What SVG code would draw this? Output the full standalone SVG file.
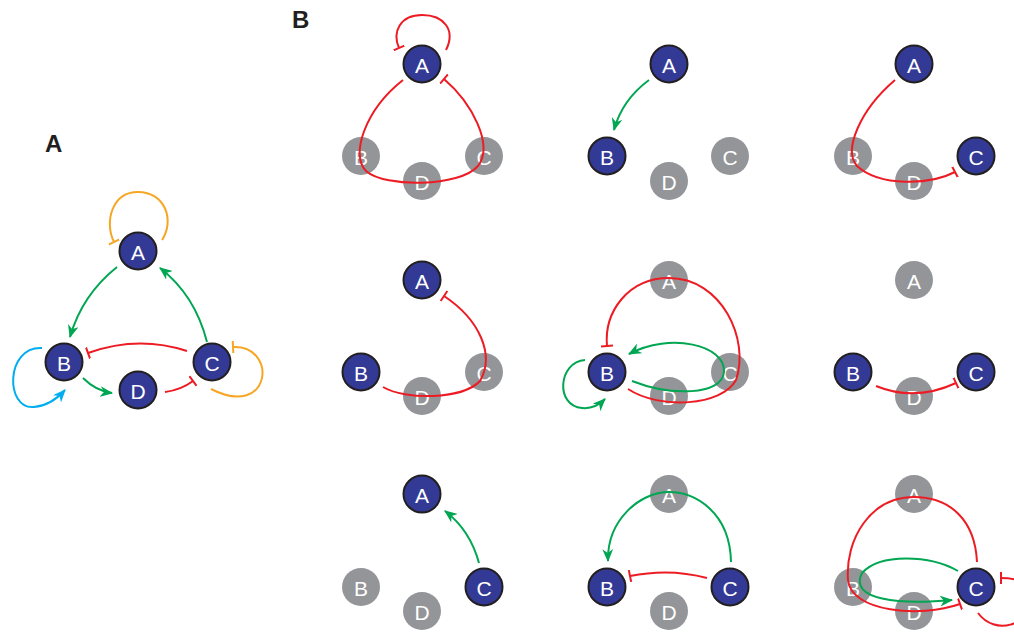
<svg xmlns="http://www.w3.org/2000/svg" width="1014" height="632" viewBox="0 0 1014 632">
  <style>
    .on circle { fill: #333a96; stroke: #231f20; stroke-width: 2; }
    .off circle { fill: #939598; }
    .node text { fill: #ffffff; font-family: "Liberation Sans", Arial, sans-serif; font-size: 21px; text-anchor: middle; dominant-baseline: central; }
    .lbl { fill: #231f20; font-family: "Liberation Sans", Arial, sans-serif; font-weight: bold; font-size: 24px; }
    .e { fill: none; stroke-width: 2; }
    .red { stroke: #ed1c24; }
    .grn { stroke: #00a651; }
    .org { stroke: #f6a623; }
    .cyn { stroke: #00aeef; }
    .act-g { marker-end: url(#arrG); }
    .act-c { marker-end: url(#arrC); }
    .inh-r { marker-end: url(#barR); }
    .inh-o { marker-end: url(#barO); }
  </style>
  <defs>
    <marker id="arrG" viewBox="0 0 12 10" refX="11" refY="5" markerWidth="13" markerHeight="11" markerUnits="userSpaceOnUse" orient="auto">
      <path d="M0,0 L12,5 L0,10 L3.5,5 Z" fill="#00a651"/>
    </marker>
    <marker id="arrC" viewBox="0 0 12 10" refX="11" refY="5" markerWidth="13" markerHeight="11" markerUnits="userSpaceOnUse" orient="auto">
      <path d="M0,0 L12,5 L0,10 L3.5,5 Z" fill="#00aeef"/>
    </marker>
    <marker id="barR" viewBox="0 0 4 12" refX="2" refY="6" markerWidth="4" markerHeight="12" markerUnits="userSpaceOnUse" orient="auto">
      <line x1="2" y1="0" x2="2" y2="12" stroke="#ed1c24" stroke-width="2"/>
    </marker>
    <marker id="barO" viewBox="0 0 4 12" refX="2" refY="6" markerWidth="4" markerHeight="12" markerUnits="userSpaceOnUse" orient="auto">
      <line x1="2" y1="0" x2="2" y2="12" stroke="#f6a623" stroke-width="2"/>
    </marker>
  </defs>

  <text class="lbl" x="45" y="152">A</text>
  <text class="lbl" x="292" y="28">B</text>

  <!-- inactive (grey) nodes sit under the connectors -->
  <g id="b1-B" class="node off"><circle cx="361" cy="156" r="19"/><text x="361" y="157">B</text></g>
  <g id="b1-C" class="node off"><circle cx="484" cy="156" r="19"/><text x="484" y="157">C</text></g>
  <g id="b1-D" class="node off"><circle cx="422" cy="181" r="19"/><text x="422" y="182">D</text></g>
  <g id="b2-C" class="node off"><circle cx="730" cy="156" r="19"/><text x="730" y="157">C</text></g>
  <g id="b2-D" class="node off"><circle cx="669" cy="181" r="19"/><text x="669" y="182">D</text></g>
  <g id="b3-B" class="node off"><circle cx="853" cy="156" r="19"/><text x="853" y="157">B</text></g>
  <g id="b3-D" class="node off"><circle cx="914" cy="181" r="19"/><text x="914" y="182">D</text></g>
  <g id="b4-C" class="node off"><circle cx="484" cy="372" r="19"/><text x="484" y="373">C</text></g>
  <g id="b4-D" class="node off"><circle cx="422" cy="396" r="19"/><text x="422" y="397">D</text></g>
  <g id="b5-A" class="node off"><circle cx="669" cy="280" r="19"/><text x="669" y="281">A</text></g>
  <g id="b5-C" class="node off"><circle cx="730" cy="372" r="19"/><text x="730" y="373">C</text></g>
  <g id="b5-D" class="node off"><circle cx="669" cy="396" r="19"/><text x="669" y="397">D</text></g>
  <g id="b6-A" class="node off"><circle cx="914" cy="280" r="19"/><text x="914" y="281">A</text></g>
  <g id="b6-D" class="node off"><circle cx="914" cy="396" r="19"/><text x="914" y="397">D</text></g>
  <g id="b7-B" class="node off"><circle cx="361" cy="587" r="19"/><text x="361" y="588">B</text></g>
  <g id="b7-D" class="node off"><circle cx="422" cy="611" r="19"/><text x="422" y="612">D</text></g>
  <g id="b8-A" class="node off"><circle cx="669" cy="494" r="19"/><text x="669" y="495">A</text></g>
  <g id="b8-D" class="node off"><circle cx="669" cy="611" r="19"/><text x="669" y="612">D</text></g>
  <g id="b9-A" class="node off"><circle cx="914" cy="494" r="19"/><text x="914" y="495">A</text></g>
  <g id="b9-B" class="node off"><circle cx="853" cy="587" r="19"/><text x="853" y="588">B</text></g>
  <g id="b9-D" class="node off"><circle cx="914" cy="611" r="19"/><text x="914" y="612">D</text></g>

  <!-- connectors -->
  <g id="connectors">
    <!-- panel A -->
    <path class="e org inh-o" d="M162,240 C175,220 165,192 138,192 C112,192 104,222 114,242"/>
    <path class="e grn act-g" d="M117,267 Q82,295 70,337"/>
    <path class="e grn act-g" d="M207,342 Q195,295 160,268"/>
    <path class="e red inh-r" d="M187,351 Q138,335 88,353"/>
    <path class="e grn act-g" d="M83,378 Q96,391 112,393"/>
    <path class="e red inh-r" d="M165,392 Q181,390 193,381"/>
    <path class="e cyn act-c" d="M42,348 C5,346 5,410 34,407 C46,406 56,400 65,390"/>
    <path class="e org inh-o" d="M211,389 C272,420 278,345 233,347"/>

    <!-- panel B, row 1 -->
    <path class="e red inh-r" d="M446,50 C456,30 444,15 422,15 C400,15 392,32 399,48"/>
    <path class="e red inh-r" d="M403,80 C365,110 350,155 366,171 C385,188 460,187 478,166 C494,145 472,103 444,79"/>
    <path class="e grn act-g" d="M649,80 Q622,100 614,130"/>
    <path class="e red inh-r" d="M895,80 C860,110 843,150 857,166 C880,187 930,185 955,172"/>

    <!-- panel B, row 2 -->
    <path class="e red inh-r" d="M383,387 C405,400 462,400 480,381 C495,355 480,320 444,296"/>
    <path class="e red inh-r" d="M628,389 C660,410 722,406 736,380 C750,340 722,278 669,278 C628,278 604,312 607,346"/>
    <path class="e grn act-g" d="M632,381 C670,396 722,396 724,372 C726,345 670,332 629,354"/>
    <path class="e grn act-g" d="M585,360 C558,362 555,406 582,408 C592,409 600,404 605,399"/>
    <path class="e red inh-r" d="M876,386 Q915,402 956,383"/>

    <!-- panel B, row 3 -->
    <path class="e grn act-g" d="M479,563 Q470,530 445,511"/>
    <path class="e grn act-g" d="M731,562 C730,512 695,492 669,492 C640,492 607,520 608,561"/>
    <path class="e red inh-r" d="M707,578 Q670,568 630,576"/>
    <path class="e red inh-r" d="M977,562 C975,520 950,497 914,497 C870,497 845,540 848,580 C851,612 920,618 960,604"/>
    <path class="e grn act-g" d="M958,571 C930,555 880,553 862,573 C848,600 900,605 952,600"/>
    <path class="e red inh-r" d="M978,613 C995,636 1030,626 1030,598 C1030,582 1016,578 1001,578"/>
  </g>

  <!-- panel A nodes -->
  <g id="a-A" class="node on"><circle cx="138" cy="251" r="18.5"/><text x="138" y="252">A</text></g>
  <g id="a-B" class="node on"><circle cx="64" cy="362" r="18.5"/><text x="64" y="363">B</text></g>
  <g id="a-C" class="node on"><circle cx="212" cy="362" r="18.5"/><text x="212" y="363">C</text></g>
  <g id="a-D" class="node on"><circle cx="138" cy="390" r="18.5"/><text x="138" y="391">D</text></g>

  <!-- active (blue) nodes in panel B -->
  <g id="b1-A" class="node on"><circle cx="422" cy="64" r="18.5"/><text x="422" y="65">A</text></g>
  <g id="b2-A" class="node on"><circle cx="669" cy="64" r="18.5"/><text x="669" y="65">A</text></g>
  <g id="b2-B" class="node on"><circle cx="607" cy="156" r="18.5"/><text x="607" y="157">B</text></g>
  <g id="b3-A" class="node on"><circle cx="914" cy="64" r="18.5"/><text x="914" y="65">A</text></g>
  <g id="b3-C" class="node on"><circle cx="976" cy="156" r="18.5"/><text x="976" y="157">C</text></g>
  <g id="b4-A" class="node on"><circle cx="422" cy="280" r="18.5"/><text x="422" y="281">A</text></g>
  <g id="b4-B" class="node on"><circle cx="361" cy="372" r="18.5"/><text x="361" y="373">B</text></g>
  <g id="b5-B" class="node on"><circle cx="607" cy="372" r="18.5"/><text x="607" y="373">B</text></g>
  <g id="b6-B" class="node on"><circle cx="853" cy="372" r="18.5"/><text x="853" y="373">B</text></g>
  <g id="b6-C" class="node on"><circle cx="976" cy="372" r="18.5"/><text x="976" y="373">C</text></g>
  <g id="b7-A" class="node on"><circle cx="422" cy="494" r="18.5"/><text x="422" y="495">A</text></g>
  <g id="b7-C" class="node on"><circle cx="484" cy="587" r="18.5"/><text x="484" y="588">C</text></g>
  <g id="b8-B" class="node on"><circle cx="607" cy="587" r="18.5"/><text x="607" y="588">B</text></g>
  <g id="b8-C" class="node on"><circle cx="730" cy="587" r="18.5"/><text x="730" y="588">C</text></g>
  <g id="b9-C" class="node on"><circle cx="976" cy="587" r="18.5"/><text x="976" y="588">C</text></g>
</svg>
